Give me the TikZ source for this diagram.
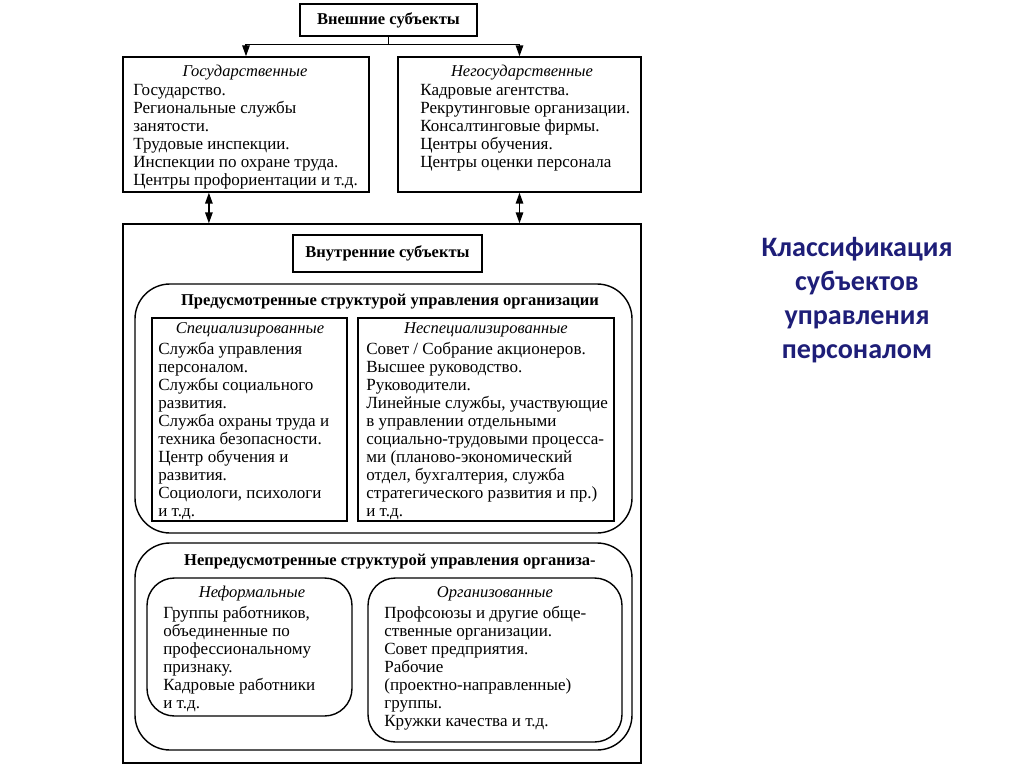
\documentclass[tikz,border=0pt]{standalone}
\usepackage{fontspec}
\setmainfont{Liberation Serif}
\newfontfamily\captionfont{Carlito}
\usetikzlibrary{positioning,fit,calc,arrows.meta}
\definecolor{titleblue}{RGB}{30,30,120}
\tikzset{
  box/.style={draw, line width=0.8pt, inner sep=0pt},
  rbox/.style={box, rounded corners=0.7cm},
  head/.style={font=\fontsize{9.4}{10.24}\selectfont\bfseries},
  kind/.style={font=\fontsize{9.4}{10.24}\selectfont\itshape},
  items/.style={anchor=north west, inner sep=0pt, align=left,
    font=\fontsize{9.7}{10.24}\selectfont},
  arr/.style={-{Triangle[length=2.2mm,width=1.5mm]}, line width=0.8pt},
  dbl/.style={{Triangle[length=2.2mm,width=1.5mm]}-{Triangle[length=2.2mm,width=1.5mm]}, line width=0.8pt}
}
\begin{document}
\begin{tikzpicture}[x=0.02cm, y=-0.02cm]
    \useasboundingbox (0,0) rectangle (1024,767);

    % External subjects
    \node (ext) [box, fit={(300,4) (477,36)}] {};
    \node (extt) [head] at (ext.center) {Внешние субъекты};
    \node (gov) [box, fit={(123,57) (369,192)}] {};
    \node (govt) [kind] at (245,73) {Государственные};
    \node (govl) [items] at (133,84) {Государство.\\Региональные службы\\занятости.\\Трудовые инспекции.\\Инспекции по охране труда.\\Центры профориентации и т.д.};
    \node (ngov) [box, fit={(398,57) (641,192)}] {};
    \node (ngovt) [kind] at (522,73) {Негосударственные};
    \node (ngovl) [items] at (420,84) {Кадровые агентства.\\Рекрутинговые организации.\\Консалтинговые фирмы.\\Центры обучения.\\Центры оценки персонала};

    % Internal subjects
    \node (int) [box, fit={(123,224) (641,763)}] {};
    \node (intb) [box, fit={(293,235) (482,272)}] {};
    \node (intt) [head] at (intb.center) {Внутренние субъекты};

    % Provided by the structure
    \node (plan) [rbox, fit={(135,284) (632,533)}] {};
    \node (plant) [head] at (390,302) {Предусмотренные структурой управления организации};
    \node (spec) [box, fit={(152,318) (347,521)}] {};
    \node (spect) [kind] at (250,330) {Специализированные};
    \node (specl) [items] at (158,342) {Служба управления\\персоналом.\\Службы социального\\развития.\\Служба охраны труда и\\техника безопасности.\\Центр обучения и\\развития.\\Социологи, психологи\\и т.д.};
    \node (nspec) [box, fit={(358,318) (614,521)}] {};
    \node (nspect) [kind] at (486,330) {Неспециализированные};
    \node (nspecl) [items] at (366,342) {Совет / Собрание акционеров.\\Высшее руководство.\\Руководители.\\Линейные службы, участвующие\\в управлении отдельными\\социально-трудовыми процесса-\\ми (планово-экономический\\отдел, бухгалтерия, служба\\стратегического развития и пр.)\\и т.д.};

    % Not provided by the structure
    \node (unplan) [rbox, fit={(135,543) (632,750)}] {};
    \node (unplant) [head] at (390,562) {Непредусмотренные структурой управления организа-};
    \node (inf) [rbox, rounded corners=0.55cm, fit={(147,578) (352,716)}] {};
    \node (inft) [kind] at (252,594) {Неформальные};
    \node (infl) [items] at (163,606) {Группы работников,\\объединенные по\\профессиональному\\признаку.\\Кадровые работники\\и т.д.};
    \node (org) [rbox, rounded corners=0.55cm, fit={(368,578) (622,742)}] {};
    \node (orgt) [kind] at (495,594) {Организованные};
    \node (orgl) [items] at (384,606) {Профсоюзы и другие обще-\\ственные организации.\\Совет предприятия.\\Рабочие\\(проектно-направленные)\\группы.\\Кружки качества и т.д.};

    % Connectors
    \draw[line width=0.8pt] (ext.south) -- ++(0,8) coordinate (split);
    \draw[arr] (split) -| (gov.north);
    \draw[arr] (split) -| (ngov.north);
    \draw[dbl] ($(gov.south west)!0.35!(gov.south east)$) coordinate (gl) -- (gl |- int.north);
    \draw[dbl] (ngov.south) -- (ngov.south |- int.north);

    % Caption
    \node (title) [font=\captionfont\fontsize{16}{19.3}\selectfont\bfseries, text=titleblue, align=center] at (857,300) {Классификация\\субъектов\\управления\\персоналом};
\end{tikzpicture}
\end{document}
